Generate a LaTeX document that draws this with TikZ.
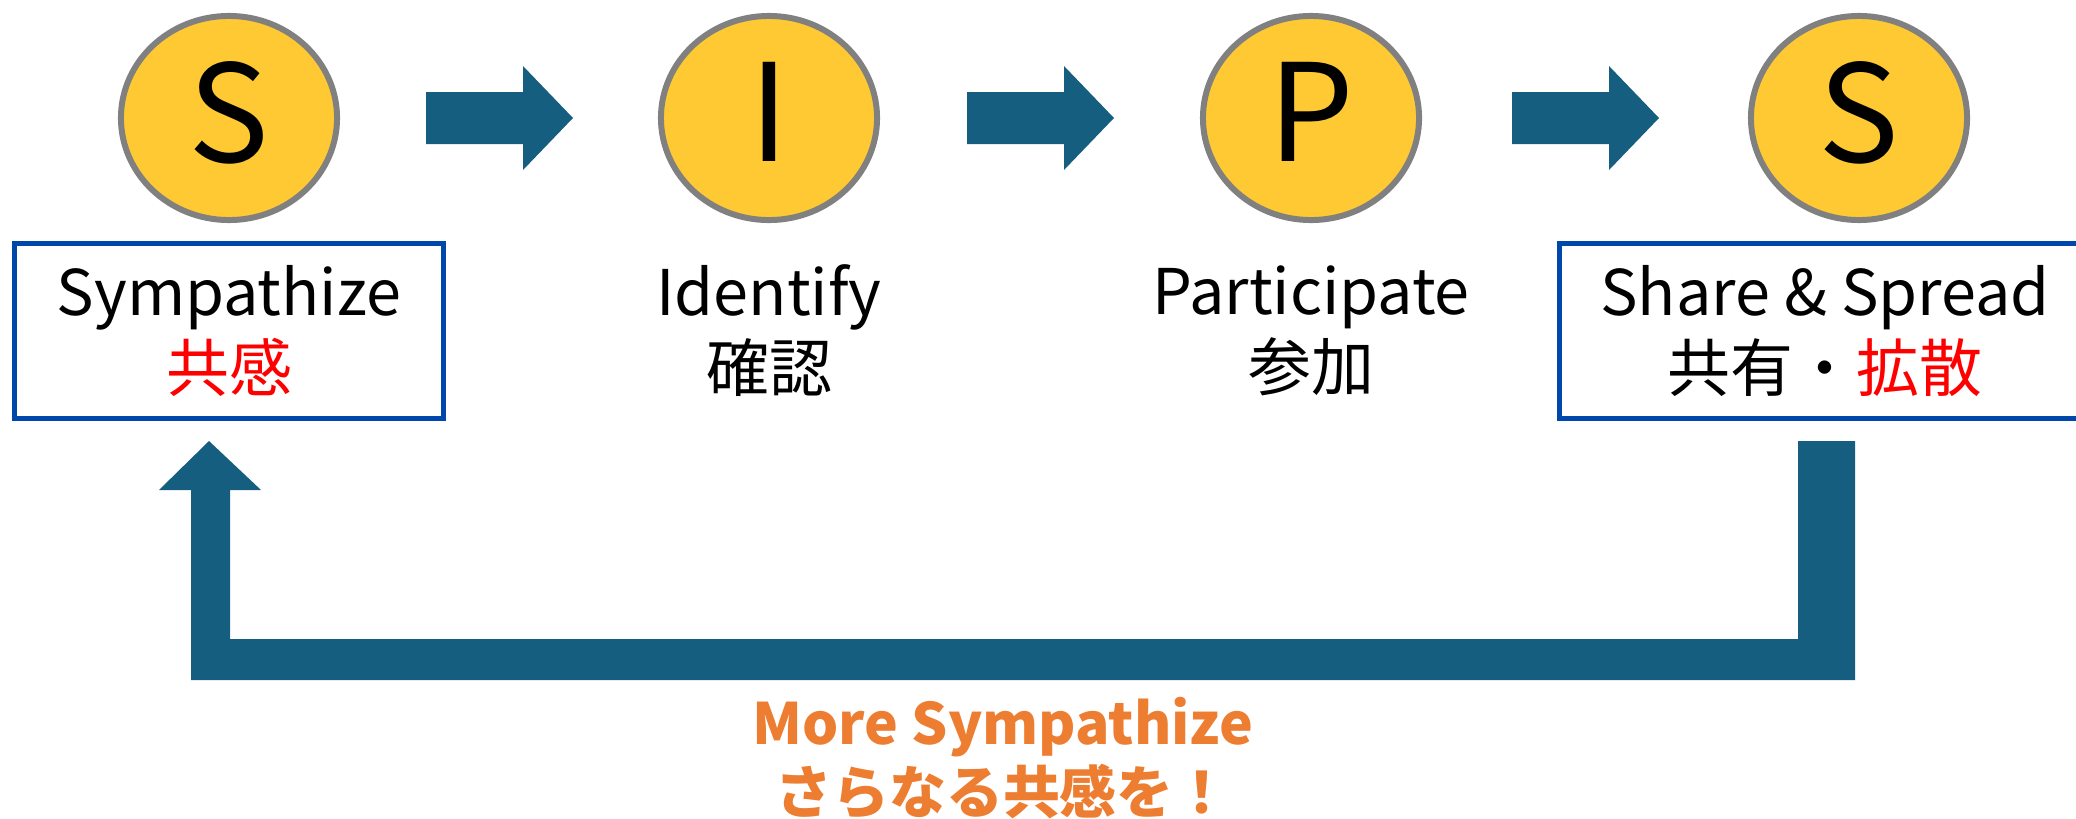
\documentclass[tikz,border=0pt]{standalone}
\usepackage{fontspec}
\setmainfont{Noto Sans CJK JP}
\usepackage{xcolor}
\usetikzlibrary{shapes.geometric,calc}

\definecolor{discyellow}{RGB}{255,201,51}
\definecolor{discgray}{RGB}{128,128,128}
\definecolor{frameblue}{RGB}{0,71,171}
\definecolor{flowblue}{RGB}{22,94,128}
\definecolor{moreorange}{RGB}{237,125,49}

\tikzset{
  disc/.style={ellipse, draw=discgray, line width=1.7pt, fill=discyellow,
    minimum width=2.16cm, minimum height=2.04cm, inner sep=0pt,
    text depth=0.12cm, font=\fontsize{38.5}{40}\selectfont},
  caption/.style={align=center, inner sep=0pt,
    font=\fontsize{17.9}{21.6}\selectfont},
  framed/.style={draw=frameblue, line width=1.4pt, minimum height=1.74cm},
  flow/.style={fill=flowblue},
}

\begin{document}
\begin{tikzpicture}[x=0.01cm, y=-0.01cm]
    \useasboundingbox (0,0) rectangle (2076,818);

    % the four steps
    \node[disc] (s1) at (229,118) {S};
    \node[disc] (i)  at (769,118) {I};
    \node[disc] (p)  at (1311,118) {P};
    \node[disc] (s2) at (1859,118) {S};

    \node[caption, framed, minimum width=4.29cm] (sympathize) at (229,331)
        {Sympathize\\\textcolor{red}{共感}};
    \node[caption] (identify) at (769,331) {Identify\\確認};
    \node[caption] (participate) at (1311,331) {Participate\\参加};
    \node[caption, framed, minimum width=5.31cm] (share) at (1825,331)
        {Share \& Spread\\共有・\textcolor{red}{拡散}};

    % block arrows between the steps
    \foreach \a/\b in {s1/i, i/p, p/s2}
        \fill[flow] ($(\a)!0.5!(\b)$) ++(-73,-26) -- ++(97,0) -- ++(0,-26)
            -- ++(50,52) -- ++(-50,52) -- ++(0,-26) -- ++(-97,0) -- cycle;

    % feedback loop
    \coordinate (loopstart) at (1826,441);
    \coordinate (loopend) at (209,441);
    \fill[flow] ($(loopstart)+(-28,0)$) -- ++(57,0) -- ++(0,239)
        -- ($(loopend)+(-18,239)$) -- ++(0,-190) -- ++(-32,0) -- (loopend)
        -- ++(52,49) -- ++(-31,0) -- ++(0,149)
        -- ($(loopstart)+(-28,198)$) -- cycle;

    \node[align=center, inner sep=0pt, text=moreorange,
        font=\fontsize{16.2}{19.6}\selectfont\bfseries] (more) at (1003,758)
        {More Sympathize\\さらなる共感を！};
\end{tikzpicture}
\end{document}
